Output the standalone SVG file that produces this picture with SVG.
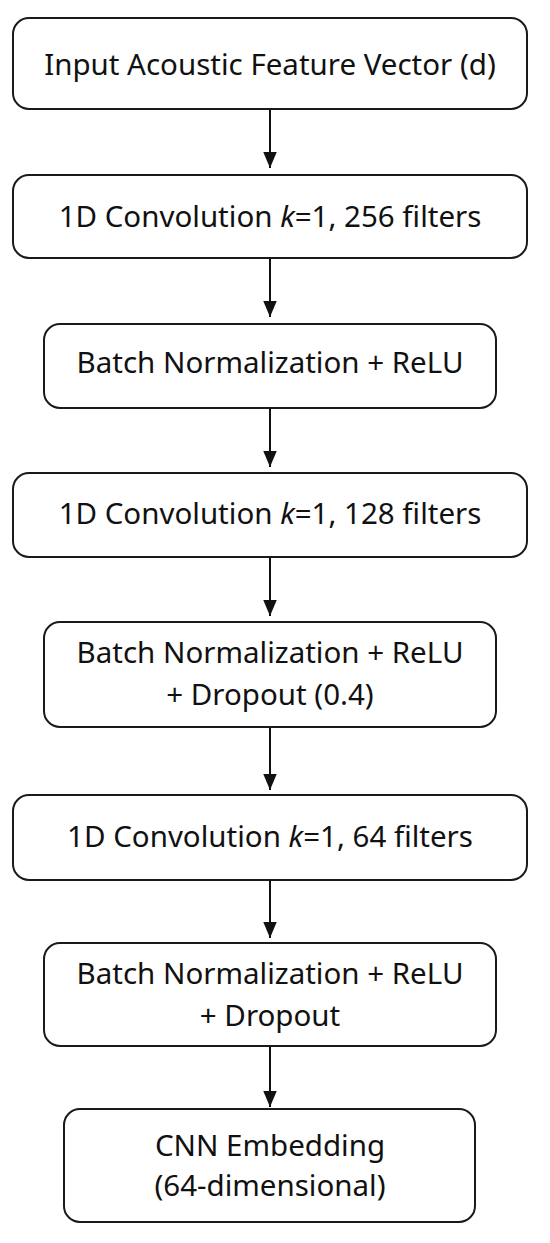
<svg xmlns="http://www.w3.org/2000/svg" width="550" height="1243" viewBox="0 0 550 1243">
<defs>
<style>
.box{fill:#fff;stroke:#1a1a1a;stroke-width:2}
.t{font-family:"Noto Sans","Open Sans",sans-serif;font-size:29.5px;fill:#111;text-anchor:middle}
.c{stroke:#111;stroke-width:2;fill:none}
</style>
<marker id="ah" markerWidth="16" markerHeight="19" refX="19" refY="8" orient="auto" markerUnits="userSpaceOnUse" viewBox="0 0 19 16">
<path d="M0,0 L19,8 L0,16 Z" fill="#111"/>
</marker>
</defs>
<rect width="550" height="1243" fill="#fff"/>
<g id="n1"><rect class="box" x="13" y="18" width="514" height="91" rx="16"/><text class="t" x="270" y="75">Input Acoustic Feature Vector (d)</text></g>
<g id="n2"><rect class="box" x="13" y="175" width="514" height="83" rx="16"/><text class="t" x="270" y="227">1D Convolution <tspan font-style="italic">k</tspan>=1, 256 filters</text></g>
<g id="n3"><rect class="box" x="44" y="324" width="452" height="84" rx="16"/><text class="t" x="270" y="373">Batch Normalization + ReLU</text></g>
<g id="n4"><rect class="box" x="13" y="473" width="514" height="84" rx="16"/><text class="t" x="270" y="524">1D Convolution <tspan font-style="italic">k</tspan>=1, 128 filters</text></g>
<g id="n5"><rect class="box" x="44" y="622" width="452" height="105" rx="16"/><text class="t" x="270" y="663">Batch Normalization + ReLU</text><text class="t" x="270" y="705">+ Dropout (0.4)</text></g>
<g id="n6"><rect class="box" x="13" y="795" width="514" height="85" rx="16"/><text class="t" x="270" y="847">1D Convolution <tspan font-style="italic">k</tspan>=1, 64 filters</text></g>
<g id="n7"><rect class="box" x="44" y="943" width="452" height="103" rx="16"/><text class="t" x="270" y="984">Batch Normalization + ReLU</text><text class="t" x="270" y="1026">+ Dropout</text></g>
<g id="n8"><rect class="box" x="64" y="1109" width="411" height="113" rx="16"/><text class="t" x="270" y="1156">CNN Embedding</text><text class="t" x="270" y="1196">(64-dimensional)</text></g>
<g id="connectors">
<line class="c" x1="270" y1="109" x2="270" y2="168" marker-end="url(#ah)"/>
<line class="c" x1="270" y1="258" x2="270" y2="317" marker-end="url(#ah)"/>
<line class="c" x1="270" y1="408" x2="270" y2="467" marker-end="url(#ah)"/>
<line class="c" x1="270" y1="557" x2="270" y2="616" marker-end="url(#ah)"/>
<line class="c" x1="270" y1="727" x2="270" y2="790" marker-end="url(#ah)"/>
<line class="c" x1="270" y1="880" x2="270" y2="938" marker-end="url(#ah)"/>
<line class="c" x1="270" y1="1046" x2="270" y2="1107" marker-end="url(#ah)"/>
</g>
</svg>
